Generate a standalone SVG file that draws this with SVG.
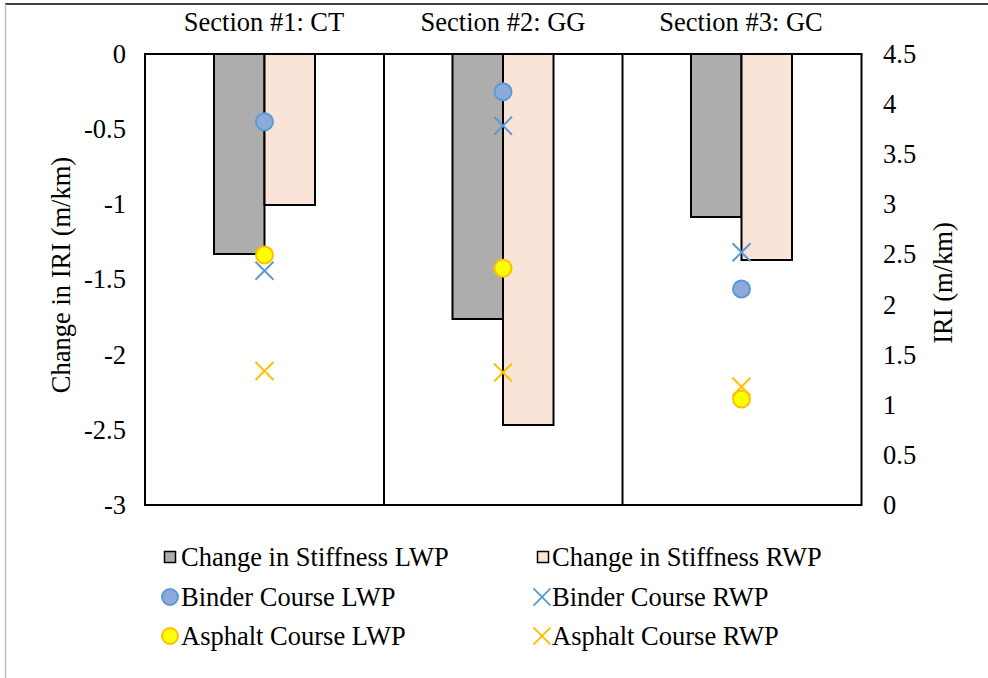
<svg xmlns="http://www.w3.org/2000/svg" width="988" height="678" viewBox="0 0 988 678">
<style>
text{font-family:"Liberation Serif","Times New Roman",serif;font-size:26.5px;fill:#000}
.tl{text-anchor:end}
.tr{text-anchor:start}
.mid{text-anchor:middle}
.gray{fill:#ADADAD;stroke:#000;stroke-width:2}
.peach{fill:#F9E4D7;stroke:#000;stroke-width:2}
.bc{fill:#8EA9DB;stroke:#5B9BD5;stroke-width:2}
.yc{fill:#FFFF00;stroke:#FFC000;stroke-width:2}
.bx{stroke:#5B9BD5;stroke-width:2;fill:none}
.yx{stroke:#FFC000;stroke-width:2;fill:none}
</style>
<defs>
<path id="x" d="M-9,-9L9,9M-9,9L9,-9"/>
</defs>
<rect width="988" height="678" fill="#fff"/>
<line x1="5" y1="4" x2="988" y2="4" stroke="#404040" stroke-width="2"/>
<line x1="5.5" y1="4" x2="5.5" y2="678" stroke="#BFBFBF" stroke-width="1.5"/>

<g id="titles">
<text class="mid" x="264" y="31">Section #1: CT</text>
<text class="mid" x="503" y="31">Section #2: GG</text>
<text class="mid" x="741" y="31">Section #3: GC</text>
</g>

<g id="left-axis">
<text class="tl" x="126" y="63">0</text>
<text class="tl" x="126" y="138">-0.5</text>
<text class="tl" x="126" y="213">-1</text>
<text class="tl" x="126" y="288">-1.5</text>
<text class="tl" x="126" y="364">-2</text>
<text class="tl" x="126" y="439">-2.5</text>
<text class="tl" x="126" y="514">-3</text>
<text class="mid" transform="translate(70,275) rotate(-90)">Change in IRI (m/km)</text>
</g>

<g id="right-axis">
<text class="tr" x="883" y="63">4.5</text>
<text class="tr" x="883" y="113">4</text>
<text class="tr" x="883" y="163">3.5</text>
<text class="tr" x="883" y="213">3</text>
<text class="tr" x="883" y="263">2.5</text>
<text class="tr" x="883" y="314">2</text>
<text class="tr" x="883" y="364">1.5</text>
<text class="tr" x="883" y="414">1</text>
<text class="tr" x="883" y="464">0.5</text>
<text class="tr" x="883" y="514">0</text>
<text class="mid" transform="translate(952,283) rotate(-90)">IRI (m/km)</text>
</g>

<g id="bars">
<rect class="gray" x="214" y="54" width="50.5" height="200"/>
<rect class="peach" x="264.5" y="54" width="50.5" height="151"/>
<rect class="gray" x="452.5" y="54" width="50.5" height="265"/>
<rect class="peach" x="503" y="54" width="50.5" height="371"/>
<rect class="gray" x="691" y="54" width="50.5" height="163"/>
<rect class="peach" x="741.5" y="54" width="50.5" height="206"/>
</g>

<g id="frame" fill="none" stroke="#000" stroke-width="2">
<rect x="145" y="54" width="716.5" height="451"/>
<line x1="384" y1="54" x2="384" y2="505"/>
<line x1="622.5" y1="54" x2="622.5" y2="505"/>
</g>

<g id="markers">
<use href="#x" class="bx" x="264.5" y="270.7"/>
<use href="#x" class="yx" x="264.5" y="371"/>
<use href="#x" class="bx" x="503" y="125.7"/>
<use href="#x" class="yx" x="503" y="372.5"/>
<use href="#x" class="bx" x="741.5" y="252.3"/>
<use href="#x" class="yx" x="741.5" y="386.7"/>
<circle class="bc" cx="264.5" cy="121.7" r="8.5"/>
<circle class="yc" cx="264.5" cy="255" r="8.5"/>
<circle class="bc" cx="503" cy="91.7" r="8.5"/>
<circle class="yc" cx="503" cy="268.3" r="8.5"/>
<circle class="bc" cx="741.5" cy="289" r="8.5"/>
<circle class="yc" cx="741.5" cy="399" r="8.5"/>
</g>

<g id="legend">
<rect x="164.5" y="551.5" width="11" height="11" fill="#ADADAD" stroke="#000" stroke-width="1.5"/>
<text x="181" y="566">Change in Stiffness LWP</text>
<rect x="537.5" y="551.5" width="11" height="11" fill="#F9E4D7" stroke="#000" stroke-width="1.5"/>
<text x="552" y="566">Change in Stiffness RWP</text>
<circle class="bc" cx="170" cy="597" r="8"/>
<text x="181" y="606">Binder Course LWP</text>
<use href="#x" class="bx" transform="translate(542,597) scale(0.95)"/>
<text x="552" y="606">Binder Course RWP</text>
<circle class="yc" cx="170" cy="636" r="8"/>
<text x="181" y="645">Asphalt Course LWP</text>
<use href="#x" class="yx" transform="translate(542,636) scale(0.95)"/>
<text x="552" y="645">Asphalt Course RWP</text>
</g>
</svg>
